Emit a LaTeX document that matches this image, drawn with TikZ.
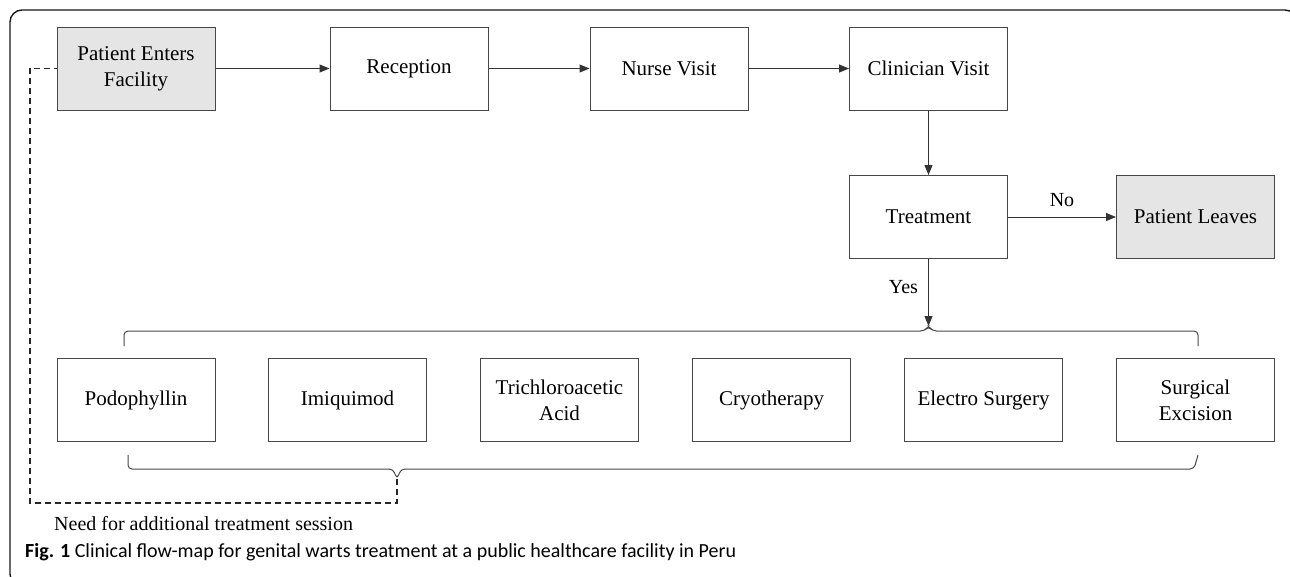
\documentclass[tikz,border=0pt]{standalone}
\usepackage{fontspec}
\setmainfont{Liberation Serif}
\newfontfamily\capfont{Carlito}
\usetikzlibrary{arrows.meta}
\begin{document}
\begin{tikzpicture}[x=1pt,y=-1pt,
 box/.style={draw=black!72, line width=1pt, minimum width=158pt, minimum height=83pt, inner sep=0pt, align=center, font=\fontsize{21}{26}\selectfont, fill=white},
 gbox/.style={box, fill=black!10},
 conn/.style={draw=black!80, line width=1pt},
 arr/.style={conn, -{Triangle[length=10pt,width=8pt]}},
 lab/.style={font=\fontsize{20}{24}\selectfont, inner sep=0pt},
 dsh/.style={draw=black!85, line width=1.2pt, dash pattern=on 6pt off 4pt},
 brc/.style={draw=black!72, line width=1pt, rounded corners=4pt}]
\useasboundingbox (0,0) rectangle (1290,576);
\clip (0,0) rectangle (1290,576);
\draw[line width=1.4pt, draw=black!90, rounded corners=12pt] (10,10) rectangle (1297,586);

% top row
\node[gbox] (pef) at (136,68.5) {Patient Enters\\Facility};
\node[box] (rec) at (409,68.5) {Reception};
\node[box] (nv) at (669,68.5) {Nurse Visit};
\node[box] (cv) at (928.5,68.5) {Clinician Visit};
\node[box] (trt) at (928.5,217) {Treatment};
\node[gbox] (pl) at (1195.5,217) {Patient Leaves};

\draw[arr] (pef) -- (rec);
\draw[arr] (rec) -- (nv);
\draw[arr] (nv) -- (cv);
\draw[arr] (cv) -- (trt);
\draw[arr] (trt) -- node[lab, above=10pt] {No} (pl);

% bottom row
\node[box] (b1) at (136,400) {Podophyllin};
\node[box] (b2) at (347.5,400) {Imiquimod};
\node[box] (b3) at (559.5,400) {Trichloroacetic\\Acid};
\node[box] (b4) at (771.5,400) {Cryotherapy};
\node[box] (b5) at (983.5,400) {Electro Surgery};
\node[box] (b6) at (1195.5,400) {Surgical\\Excision};

% top brace
\coordinate (tbt) at (928.5,326);
\draw[brc] (124,346) -- (124,331) -- (924.5,331) -- (tbt) -- (932.5,331) -- (1198,331) -- (1198,346);
\draw[arr] (trt) -- node[lab, left=10pt, pos=0.42] {Yes} (tbt);

% bottom brace
\coordinate (bbt) at (397,479);
\draw[brc] (128,455) -- (128,469) -- (393,469) -- (bbt) -- (401,469) -- (1194,469) -- (1198,455);

% dashed return
\coordinate (dl) at (30,503);
\draw[dsh] (bbt) -- (397,503) -- (dl) -- (30,68.5) -- (pef.west);

\node[lab, anchor=base west] (need) at (54,530) {Need for additional treatment session};
\node[anchor=base west, inner sep=0pt, font=\capfont\fontsize{20}{24}\selectfont] (cap) at (25,557) {\textbf{Fig. 1} Clinical flow-map for genital warts treatment at a public healthcare facility in Peru};
\end{tikzpicture}
\end{document}
